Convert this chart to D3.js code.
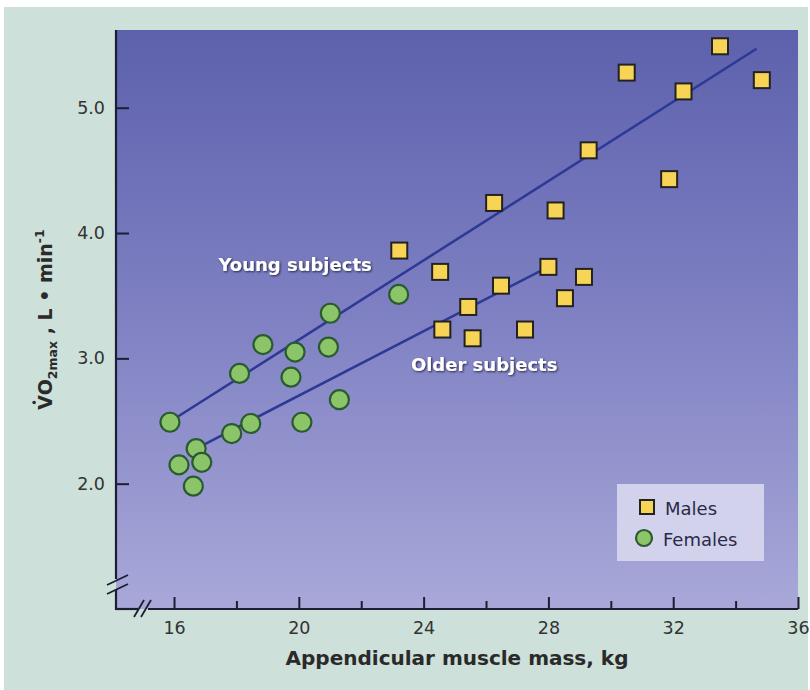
<!DOCTYPE html>
<html><head><meta charset="utf-8">
<script src="https://cdn.jsdelivr.net/npm/d3@7"></script>
<style>body{margin:0;background:#fff;} svg{display:block;}</style>
</head><body><svg id="chart" width="810" height="690"></svg>
<script>
// ---- data ----
const maleMass = [23.22, 24.53, 26.26, 28.23, 26.48, 28.00, 29.14, 28.53, 25.43, 24.60, 25.57, 27.25, 33.50, 30.51, 32.33, 34.84, 29.29, 31.87];
const maleVO2  = [3.86, 3.69, 4.24, 4.18, 3.58, 3.73, 3.65, 3.48, 3.41, 3.23, 3.16, 3.23, 5.49, 5.28, 5.13, 5.22, 4.66, 4.43];
const femaleMass = [15.87, 16.16, 16.71, 16.89, 16.62, 17.85, 18.46, 18.10, 18.85, 19.75, 19.88, 20.10, 20.95, 21.01, 21.30, 23.20];
const femaleVO2  = [2.49, 2.15, 2.28, 2.17, 1.98, 2.40, 2.48, 2.88, 3.11, 2.85, 3.05, 2.49, 3.09, 3.36, 2.67, 3.51];
const youngLineMass = [15.9, 34.67];
const youngLineVO2  = [2.50, 5.47];
const olderLineMass = [16.71, 28.0];
const olderLineVO2  = [2.28, 3.73];
const xTicks = [16, 20, 24, 28, 32, 36];
const xMinorTicks = [18, 22, 26, 30, 34];
const yTicks = [2.0, 3.0, 4.0, 5.0];
const legendLabels = ["Males", "Females"];
const annotationLabels = ["Young subjects", "Older subjects"];
const annotationMass = [19.88, 25.94];
const annotationVO2 = [3.745, 2.95];

// ---- chart ----
const svg = d3.select("#chart");
const x = d3.scaleLinear().domain([14.14, 36]).range([116, 798]);
const y = d3.scaleLinear().domain([1, 5.62]).range([609, 30]);
const [x0, x1] = x.range();
const [yB, yT] = y.range();
const axisColor = "#1d1d33";

const defs = svg.append("defs");
const g1 = defs.append("linearGradient").attr("id", "bg").attr("x1", 0).attr("y1", 0).attr("x2", 0).attr("y2", 1);
g1.append("stop").attr("offset", "0%").attr("stop-color", "#5d61ac");
g1.append("stop").attr("offset", "50%").attr("stop-color", "#7f81c3");
g1.append("stop").attr("offset", "100%").attr("stop-color", "#a9a8d9");
const f = defs.append("filter").attr("id", "shadow").attr("x", "-10%").attr("y", "-30%").attr("width", "120%").attr("height", "160%");
f.append("feDropShadow").attr("dx", 1).attr("dy", 1).attr("stdDeviation", 1.2).attr("flood-color", "#1a1c40").attr("flood-opacity", 0.95);

// outer panel
svg.append("rect").attr("x", 4).attr("y", 7).attr("width", 804).attr("height", 683).attr("fill", "#cde0d9");
// plot background
svg.append("rect").attr("x", x0).attr("y", yT).attr("width", x1 - x0).attr("height", yB - yT).attr("fill", "url(#bg)");

// x axis ticks
const xa = svg.append("g").attr("transform", `translate(0,${yB})`)
  .call(d3.axisBottom(x).tickValues(xTicks).tickSize(-12).tickPadding(13).tickFormat(d3.format("d")));
xa.select(".domain").remove();
xa.selectAll("line").attr("stroke", axisColor).attr("stroke-width", 2);
xa.selectAll("text").attr("font-family", "DejaVu Sans").attr("font-size", 17.5).attr("fill", "#333");
const xm = svg.append("g").attr("transform", `translate(0,${yB})`)
  .call(d3.axisBottom(x).tickValues(xMinorTicks).tickSize(-8).tickFormat(""));
xm.select(".domain").remove();
xm.selectAll("line").attr("stroke", axisColor).attr("stroke-width", 2);

// y axis ticks
const ya = svg.append("g").attr("transform", `translate(${x0},0)`)
  .call(d3.axisLeft(y).tickValues(yTicks).tickSize(-13).tickPadding(11).tickFormat(d3.format(".1f")));
ya.select(".domain").remove();
ya.selectAll("line").attr("stroke", axisColor).attr("stroke-width", 2);
ya.selectAll("text").attr("font-family", "DejaVu Sans").attr("font-size", 17.5).attr("fill", "#333");

// axis lines with breaks
const ax = svg.append("g").attr("stroke", axisColor).attr("stroke-width", 2.2).attr("fill", "none");
ax.append("line").attr("x1", x0).attr("y1", yT).attr("x2", x0).attr("y2", 579);
ax.append("line").attr("x1", x0).attr("y1", 589).attr("x2", x0).attr("y2", yB + 1);
ax.append("line").attr("x1", x0 - 1).attr("y1", yB).attr("x2", 138).attr("y2", yB);
ax.append("line").attr("x1", 148).attr("y1", yB).attr("x2", x1).attr("y2", yB);
const brk = svg.append("g").attr("stroke", axisColor).attr("stroke-width", 1.8);
brk.append("line").attr("x1", 107).attr("y1", 585).attr("x2", 128).attr("y2", 575);
brk.append("line").attr("x1", 107).attr("y1", 594).attr("x2", 128).attr("y2", 584);
brk.append("line").attr("x1", 134).attr("y1", 617).attr("x2", 144).attr("y2", 600);
brk.append("line").attr("x1", 141).attr("y1", 617).attr("x2", 151).attr("y2", 600);

// regression lines
const line = d3.line().x(d => x(d[0])).y(d => y(d[1]));
svg.append("path").datum(d3.zip(youngLineMass, youngLineVO2)).attr("d", line)
  .attr("fill", "none").attr("stroke", "#2d3995").attr("stroke-width", 2.5);
svg.append("path").datum(d3.zip(olderLineMass, olderLineVO2)).attr("d", line)
  .attr("fill", "none").attr("stroke", "#2d3995").attr("stroke-width", 2.5);

// annotations
svg.append("g").selectAll("text").data(d3.range(annotationLabels.length)).join("text")
  .attr("x", i => x(annotationMass[i])).attr("y", i => y(annotationVO2[i]))
  .attr("text-anchor", "middle").attr("dominant-baseline", "central")
  .attr("font-family", "DejaVu Sans").attr("font-weight", "bold").attr("font-size", 18)
  .attr("fill", "#ffffff").attr("filter", "url(#shadow)")
  .text(i => annotationLabels[i]);

// females
svg.append("g").selectAll("circle").data(d3.zip(femaleMass, femaleVO2)).join("circle")
  .attr("cx", d => x(d[0])).attr("cy", d => y(d[1])).attr("r", 9.5)
  .attr("fill", "#8cc46a").attr("stroke", "#2a5a30").attr("stroke-width", 2.2);
// males
const s = 16;
svg.append("g").selectAll("rect").data(d3.zip(maleMass, maleVO2)).join("rect")
  .attr("x", d => x(d[0]) - s / 2).attr("y", d => y(d[1]) - s / 2).attr("width", s).attr("height", s)
  .attr("fill", "#f8d456").attr("stroke", "#222").attr("stroke-width", 2);

// legend
const lg = svg.append("g");
lg.append("rect").attr("x", 617).attr("y", 484).attr("width", 147).attr("height", 77).attr("fill", "#d3d2ec");
lg.append("rect").attr("x", 640).attr("y", 500).attr("width", 14).attr("height", 14)
  .attr("fill", "#f8d456").attr("stroke", "#222").attr("stroke-width", 2);
lg.append("circle").attr("cx", 644).attr("cy", 538).attr("r", 8)
  .attr("fill", "#8cc46a").attr("stroke", "#2a5a30").attr("stroke-width", 2.2);
lg.selectAll("text").data(legendLabels).join("text")
  .attr("x", (d, i) => i === 0 ? 665 : 663).attr("y", (d, i) => i === 0 ? 508 : 539)
  .attr("dominant-baseline", "central")
  .attr("font-family", "DejaVu Sans").attr("font-size", 18).attr("fill", "#2a2a48")
  .text(d => d);

// x axis title
svg.append("text").attr("x", (x0 + x1) / 2).attr("y", 665).attr("text-anchor", "middle")
  .attr("font-family", "DejaVu Sans").attr("font-weight", "bold").attr("font-size", 20).attr("fill", "#2a2a2a")
  .text("Appendicular muscle mass, kg");

// y axis title
const yg = svg.append("g").attr("transform", `translate(52,${(yT + yB) / 2}) rotate(-90)`);
const yt = yg.append("text").attr("x", 0).attr("y", 0).attr("text-anchor", "middle")
  .attr("font-family", "DejaVu Sans").attr("font-weight", "bold").attr("font-size", 19).attr("fill", "#2a2a2a");
yt.append("tspan").text("VO");
yt.append("tspan").attr("dy", 5).attr("font-size", 12.5).text("2max");
yt.append("tspan").attr("dy", -5).text(" , L • min");
yt.append("tspan").attr("dy", -8).attr("font-size", 12.5).text("-1");
const node = yt.node();
const ext = node.getExtentOfChar(0);
yg.append("circle").attr("cx", ext.x + ext.width / 2).attr("cy", -0.73 * 19 - 4).attr("r", 1.8).attr("fill", "#2a2a2a");
</script>
</body></html>
